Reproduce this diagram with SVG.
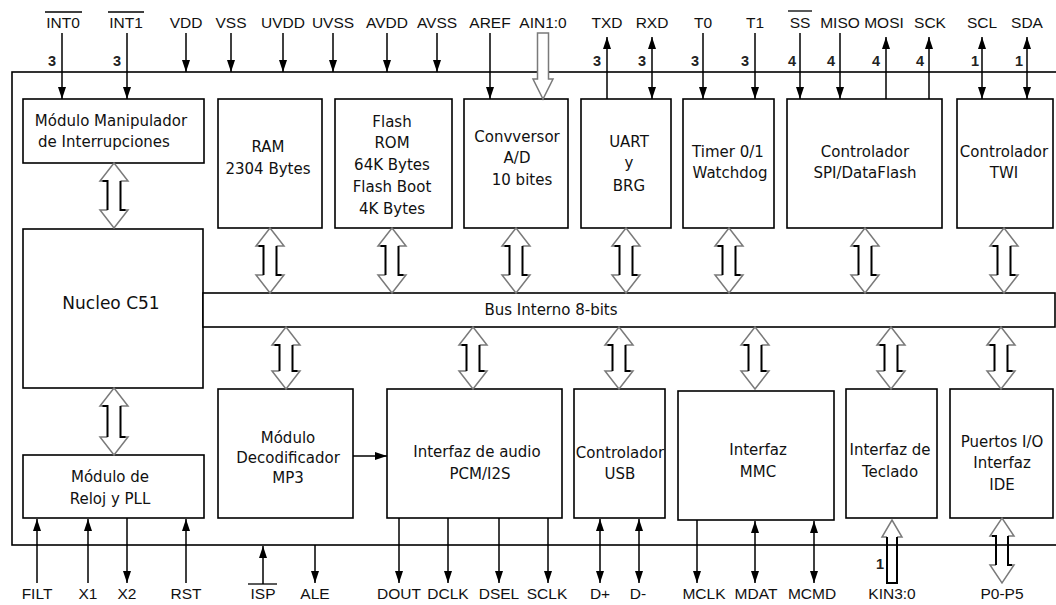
<svg xmlns="http://www.w3.org/2000/svg" width="1056" height="605" viewBox="0 0 1056 605">
<defs>
<style>
.box{fill:#fff;stroke:#000;stroke-width:1.6}
.t{font-family:"DejaVu Sans",sans-serif;font-size:15px;fill:#111;text-anchor:middle}
.p{font-family:"Liberation Sans",Arial,sans-serif;font-size:15.5px;fill:#111;text-anchor:middle}
.n{font-family:"Liberation Sans",Arial,sans-serif;font-size:14.5px;font-weight:bold;fill:#222;text-anchor:middle}
.w{stroke:#000;stroke-width:1.5;fill:none}
.a{marker-end:url(#ah)}
.aa{marker-end:url(#ah);marker-start:url(#ah)}
.hd{fill:#fff;stroke:#7a7a7a;stroke-width:1.5}
.sh{fill:none;stroke:#000;stroke-width:2}
</style>
<marker id="ah" markerUnits="userSpaceOnUse" markerWidth="12" markerHeight="8" refX="12" refY="4" orient="auto-start-reverse">
<path d="M0,0 L12,4 L0,8 z" fill="#000"/>
</marker>
<g id="da65"><path class="hd" d="M-6.5,18 H-14 L0,0 L14,18 H6.5 M-6.5,47 H-14 L0,65 L14,47 H6.5"/><path class="sh" d="M-11.5,18 H-6.5 V47 M6.5,18 V47 H11.5"/></g>
<g id="da62"><path class="hd" d="M-6.5,18 H-14 L0,0 L14,18 H6.5 M-6.5,44 H-14 L0,62 L14,44 H6.5"/><path class="sh" d="M-11.5,18 H-6.5 V44 M6.5,18 V44 H11.5"/></g>
<g id="da67"><path class="hd" d="M-6.5,18 H-14 L0,0 L14,18 H6.5 M-6.5,49 H-14 L0,67 L14,49 H6.5"/><path class="sh" d="M-11.5,18 H-6.5 V49 M6.5,18 V49 H11.5"/></g>
</defs>
<rect width="1056" height="605" fill="#fff"/>
<g id="chip"><rect x="12" y="72" width="1060" height="473" fill="none" stroke="#000" stroke-width="1.6"/></g>

<g id="manipulador"><rect class="box" x="23" y="99" width="181" height="64"/><text class="t" x="111" y="126">Módulo Manipulador</text><text class="t" x="104" y="147">de Interrupciones</text></g>
<g id="ram"><rect class="box" x="218" y="99" width="104" height="129"/><text class="t" x="268" y="152">RAM</text><text class="t" x="268" y="174">2304 Bytes</text></g>
<g id="flash"><rect class="box" x="335" y="99" width="117" height="129"/><text class="t" x="392" y="127">Flash</text><text class="t" x="392" y="148">ROM</text><text class="t" x="392" y="170">64K Bytes</text><text class="t" x="392" y="192">Flash Boot</text><text class="t" x="392" y="214">4K Bytes</text></g>
<g id="conversor"><rect class="box" x="464" y="99" width="104" height="129"/><text class="t" x="517" y="142">Convversor</text><text class="t" x="517" y="163">A/D</text><text class="t" x="522" y="185">10 bites</text></g>
<g id="uart"><rect class="box" x="581" y="99" width="90" height="129"/><text class="t" x="629" y="147">UART</text><text class="t" x="629" y="168">y</text><text class="t" x="629" y="191">BRG</text></g>
<g id="timer"><rect class="box" x="683" y="99" width="91" height="129"/><text class="t" x="728" y="157">Timer 0/1</text><text class="t" x="730" y="178">Watchdog</text></g>
<g id="spi"><rect class="box" x="787" y="99" width="155" height="129"/><text class="t" x="865" y="157">Controlador</text><text class="t" x="865" y="178">SPI/DataFlash</text></g>
<g id="twi"><rect class="box" x="957" y="99" width="96" height="129"/><text class="t" x="1004" y="157">Controlador</text><text class="t" x="1004" y="178">TWI</text></g>
<g id="nucleo"><rect class="box" x="23" y="229" width="180" height="159"/><text class="t" x="111" y="309" style="font-size:17px">Nucleo C51</text></g>
<g id="bus"><rect class="box" x="203" y="293" width="852" height="34"/><text class="t" x="551" y="315">Bus Interno 8-bits</text></g>
<g id="reloj"><rect class="box" x="23" y="455" width="181" height="63"/><text class="t" x="110" y="482">Módulo de</text><text class="t" x="110" y="504">Reloj y PLL</text></g>
<g id="mp3"><rect class="box" x="218" y="389" width="135" height="129"/><text class="t" x="288" y="443">Módulo</text><text class="t" x="288" y="463">Decodificador</text><text class="t" x="288" y="483">MP3</text></g>
<g id="audio"><rect class="box" x="387" y="389" width="175" height="129"/><text class="t" x="477" y="457">Interfaz de audio</text><text class="t" x="480" y="479">PCM/I2S</text></g>
<g id="usb"><rect class="box" x="574" y="389" width="91" height="129"/><text class="t" x="620" y="458">Controlador</text><text class="t" x="620" y="479">USB</text></g>
<g id="mmc"><rect class="box" x="678" y="391" width="156" height="129"/><text class="t" x="758" y="455">Interfaz</text><text class="t" x="758" y="477">MMC</text></g>
<g id="teclado"><rect class="box" x="846" y="389" width="91" height="129"/><text class="t" x="890" y="455">Interfaz de</text><text class="t" x="890" y="477">Teclado</text></g>
<g id="puertos"><rect class="box" x="950" y="389" width="103" height="129"/><text class="t" x="1002" y="447">Puertos I/O</text><text class="t" x="1002" y="468">Interfaz</text><text class="t" x="1002" y="490">IDE</text></g>

<g id="connectors">
<use href="#da65" x="114" y="163"/>
<use href="#da67" x="114" y="388"/>
<use href="#da65" x="270" y="228"/>
<use href="#da65" x="392" y="228"/>
<use href="#da65" x="516" y="228"/>
<use href="#da65" x="626" y="228"/>
<use href="#da65" x="729" y="228"/>
<use href="#da65" x="865" y="228"/>
<use href="#da65" x="1004" y="228"/>
<use href="#da62" x="286" y="327"/>
<use href="#da62" x="473" y="327"/>
<use href="#da62" x="619" y="327"/>
<use href="#da62" x="755" y="327"/>
<use href="#da62" x="891" y="327"/>
<use href="#da62" x="1001" y="327"/>
<g class="w">
<line class="a" x1="62" y1="33" x2="62" y2="99"/>
<line class="a" x1="127" y1="33" x2="127" y2="99"/>
<line class="a" x1="186" y1="33" x2="186" y2="72"/>
<line class="a" x1="231" y1="33" x2="231" y2="72"/>
<line class="a" x1="283" y1="33" x2="283" y2="72"/>
<line class="a" x1="333" y1="33" x2="333" y2="72"/>
<line class="a" x1="387" y1="33" x2="387" y2="72"/>
<line class="a" x1="437" y1="33" x2="437" y2="72"/>
<line class="a" x1="490" y1="33" x2="490" y2="99"/>
<line class="a" x1="607" y1="99" x2="607" y2="37"/>
<line class="aa" x1="652" y1="37" x2="652" y2="99"/>
<line class="a" x1="703" y1="33" x2="703" y2="99"/>
<line class="a" x1="755" y1="33" x2="755" y2="99"/>
<line class="a" x1="800" y1="33" x2="800" y2="99"/>
<line class="a" x1="840" y1="33" x2="840" y2="99"/>
<line class="a" x1="886" y1="99" x2="886" y2="37"/>
<line class="a" x1="929" y1="99" x2="929" y2="37"/>
<line class="aa" x1="982" y1="37" x2="982" y2="99"/>
<line class="aa" x1="1027" y1="37" x2="1027" y2="99"/>
<line class="a" x1="37" y1="583" x2="37" y2="519"/>
<line class="a" x1="88" y1="583" x2="88" y2="519"/>
<line class="a" x1="127" y1="518" x2="127" y2="583"/>
<line class="a" x1="186" y1="583" x2="186" y2="519"/>
<line class="a" x1="263" y1="584" x2="263" y2="546"/>
<line class="a" x1="315" y1="545" x2="315" y2="583"/>
<line class="a" x1="399" y1="518" x2="399" y2="583"/>
<line class="a" x1="448" y1="518" x2="448" y2="583"/>
<line class="a" x1="499" y1="518" x2="499" y2="583"/>
<line class="a" x1="548" y1="518" x2="548" y2="583"/>
<line class="aa" x1="600" y1="519" x2="600" y2="583"/>
<line class="aa" x1="639" y1="519" x2="639" y2="583"/>
<line class="a" x1="697" y1="520" x2="697" y2="583"/>
<line class="aa" x1="755" y1="521" x2="755" y2="583"/>
<line class="aa" x1="814" y1="521" x2="814" y2="583"/>
<line class="a" x1="353" y1="456" x2="387" y2="456"/>
</g>
<path class="hd" d="M537.5,33 H548.5 V79 H553 L543,99 L533,79 H537.5 Z"/>
<path class="hd" d="M887,537 H882 L892,520 L902,537 H897"/>
<path class="sh" d="M887,537 V583 H897 V537"/>
<path class="hd" d="M996,536 H990 L1002,518 L1014,536 H1008 M996,565 H990 L1002,583 L1014,565 H1008"/>
<path class="sh" d="M992,536 H996 V565 M1008,536 V565 H1012"/>
</g>

<g id="pin-labels">
<text class="p" x="63" y="28">INT0</text><line x1="45" y1="12" x2="82" y2="12" stroke="#000" stroke-width="1.3"/>
<text class="p" x="126" y="28">INT1</text><line x1="108" y1="12" x2="144" y2="12" stroke="#000" stroke-width="1.3"/>
<text class="p" x="186" y="28">VDD</text>
<text class="p" x="231" y="28">VSS</text>
<text class="p" x="283" y="28">UVDD</text>
<text class="p" x="333" y="28">UVSS</text>
<text class="p" x="387" y="28">AVDD</text>
<text class="p" x="437" y="28">AVSS</text>
<text class="p" x="490" y="28">AREF</text>
<text class="p" x="543" y="28">AIN1:0</text>
<text class="p" x="607" y="28">TXD</text>
<text class="p" x="652" y="28">RXD</text>
<text class="p" x="703" y="28">T0</text>
<text class="p" x="755" y="28">T1</text>
<text class="p" x="800" y="28">SS</text><line x1="788" y1="11" x2="812" y2="11" stroke="#000" stroke-width="1.3"/>
<text class="p" x="840" y="28">MISO</text>
<text class="p" x="884" y="28">MOSI</text>
<text class="p" x="930" y="28">SCK</text>
<text class="p" x="982" y="28">SCL</text>
<text class="p" x="1027" y="28">SDA</text>
<text class="n" x="52" y="66">3</text>
<text class="n" x="117" y="66">3</text>
<text class="n" x="597" y="66">3</text>
<text class="n" x="642" y="66">3</text>
<text class="n" x="695" y="66">3</text>
<text class="n" x="745" y="66">3</text>
<text class="n" x="792" y="66">4</text>
<text class="n" x="831" y="66">4</text>
<text class="n" x="876" y="66">4</text>
<text class="n" x="920" y="66">4</text>
<text class="n" x="975" y="66">1</text>
<text class="n" x="1019" y="66">1</text>
<text class="n" x="880" y="569">1</text>
<text class="p" x="37" y="599">FILT</text>
<text class="p" x="88" y="599">X1</text>
<text class="p" x="127" y="599">X2</text>
<text class="p" x="186" y="599">RST</text>
<text class="p" x="263" y="599">ISP</text><line x1="248" y1="584" x2="277" y2="584" stroke="#000" stroke-width="1.3"/>
<text class="p" x="315" y="599">ALE</text>
<text class="p" x="399" y="599">DOUT</text>
<text class="p" x="448" y="599">DCLK</text>
<text class="p" x="499" y="599">DSEL</text>
<text class="p" x="547" y="599">SCLK</text>
<text class="p" x="600" y="599">D+</text>
<text class="p" x="638" y="599">D-</text>
<text class="p" x="704" y="599">MCLK</text>
<text class="p" x="756" y="599">MDAT</text>
<text class="p" x="812" y="599">MCMD</text>
<text class="p" x="892" y="599">KIN3:0</text>
<text class="p" x="1002" y="599">P0-P5</text>
</g>
</svg>
